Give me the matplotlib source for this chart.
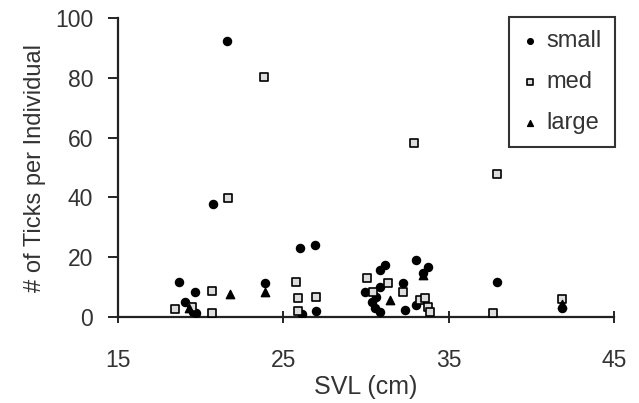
import matplotlib
matplotlib.use("Agg")
import matplotlib.pyplot as plt

plt.rcParams['font.family'] = ['Liberation Sans', 'DejaVu Sans']

small_x = [18.7, 19.66, 19.05, 19.55, 19.7, 20.77, 21.6, 23.9, 26.0, 26.94, 26.1, 26.96,
           29.92, 30.33, 30.53, 30.83, 30.63, 30.83, 30.83, 31.13, 32.24, 32.34, 33.05,
           33.75, 33.45, 33.05, 37.94, 41.85]
small_y = [11.8, 8.2, 5.1, 1.8, 1.2, 37.7, 92.4, 11.3, 23.0, 24.0, 1.0, 2.0,
           8.3, 5.1, 2.9, 1.8, 6.8, 10.1, 15.7, 17.4, 11.3, 2.3, 19.0,
           16.8, 14.6, 4.0, 11.8, 3.0]

med_x = [18.45, 19.45, 20.66, 20.66, 21.67, 23.84, 25.76, 25.9, 26.96, 25.9, 30.03, 30.43,
         31.33, 32.24, 32.9, 33.25, 33.55, 33.75, 33.85, 37.7, 37.94, 41.85]
med_y = [2.6, 3.4, 8.8, 1.5, 39.9, 80.2, 11.8, 6.2, 6.8, 2.0, 13.0, 8.5,
         11.3, 8.5, 58.2, 5.7, 6.3, 3.4, 1.8, 1.5, 47.8, 6.0]

large_x = [21.77, 23.9, 31.43, 33.45, 41.85, 19.3]
large_y = [7.6, 8.5, 5.7, 14.0, 4.5, 3.0]

x_ticks = [15, 25, 35, 45]
y_ticks = [0, 20, 40, 60, 80, 100]

fig = plt.figure(figsize=(6.39, 4.03), dpi=100)
ax = fig.add_axes([0.1847, 0.2134, 0.961 - 0.1847, 0.9553 - 0.2134])

tc = '#333333'
ax.scatter(small_x, small_y, marker='o', s=34, color='black', label='small', zorder=3)
ax.scatter(med_x, med_y, marker='s', s=28, facecolor='#dddddd', edgecolor='black',
           linewidths=1.2, label='med', zorder=3)
ax.scatter(large_x, large_y, marker='^', s=36, color='black', label='large', zorder=3)

ax.set_xlim(15, 45)
ax.set_ylim(0, 100)
ax.set_xticks(x_ticks)
ax.set_yticks(y_ticks)
for s in ['top', 'right']:
    ax.spines[s].set_visible(False)
for s in ['left', 'bottom']:
    ax.spines[s].set_linewidth(1.6)
    ax.spines[s].set_color('#222222')
ax.tick_params(axis='y', direction='out', length=7, width=1.2, pad=11,
               labelsize=16.5, labelcolor=tc)
ax.tick_params(axis='x', direction='inout', length=8, width=1.2, pad=19,
               labelsize=16.5, labelcolor=tc)
ax.set_xlabel('SVL (cm)', fontsize=18, color=tc, labelpad=2)
ax.set_ylabel('# of Ticks per Individual', fontsize=17, color=tc, labelpad=6)

leg = ax.legend(loc='upper right', bbox_to_anchor=(1.002, 1.002), borderaxespad=0,
                fontsize=17, frameon=True, fancybox=False, edgecolor='black',
                labelspacing=0.8, handletextpad=0.35, handlelength=0.7, borderpad=0.55,
                markerscale=0.7, labelcolor=tc)
leg.get_frame().set_linewidth(1.5)

fig.savefig('out.png', dpi=100)
